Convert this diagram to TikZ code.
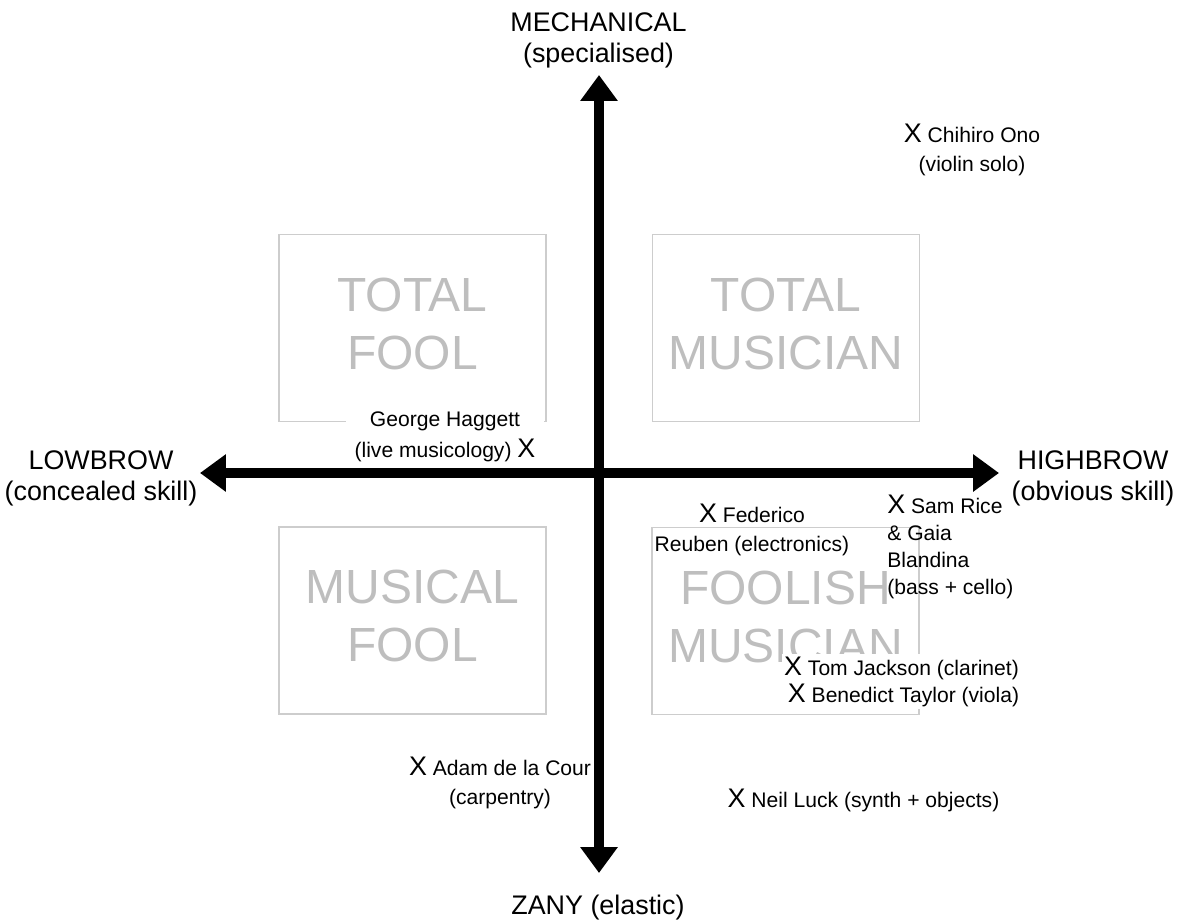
\documentclass[tikz,border=0pt]{standalone}
\usepackage{fontspec}
\setmainfont{Liberation Sans}
\usetikzlibrary{arrows.meta}
\definecolor{boxline}{RGB}{205,205,205}
\definecolor{boxtext}{RGB}{190,190,190}
\newcommand{\bigX}{{\fontsize{15.3}{16.5}\selectfont X}}
\begin{document}
\begin{tikzpicture}[x=0.02cm,y=-0.02cm,
    quad/.style={draw=boxline,line width=0.7pt,minimum width=5.34cm,minimum height=3.74cm,inner sep=0pt},
    quadtext/.style={text=boxtext,font=\fontsize{27.3}{33}\selectfont,align=center,inner sep=0pt,yshift=0.09cm},
    axisline/.style={line width=0.2cm,{Triangle[length=0.52cm,width=0.72cm]}-{Triangle[length=0.52cm,width=0.72cm]}},
    axislabel/.style={font=\fontsize{15.3}{17.6}\selectfont,align=center,inner sep=0pt},
    person/.style={font=\fontsize{12}{16.5}\selectfont,align=center,inner sep=0pt},
    masked/.style={person,fill=white,inner sep=1.5pt}]
    \useasboundingbox (0,0) rectangle (1179,919);
    \node[quad] (tf) at (412.5,328) {};
    \node[quad] (tm) at (786,328) {};
    \node[quad] (mf) at (412.5,620.5) {};
    \node[quad] (fm) at (785.5,621) {};
    \node[quadtext] (tftext) at (tf) {TOTAL\\FOOL};
    \node[quadtext] (tmtext) at (tm) {TOTAL\\MUSICIAN};
    \node[quadtext] (mftext) at (mf) {MUSICAL\\FOOL};
    \node[quadtext] (fmtext) at (fm) {FOOLISH\\MUSICIAN};
    \node[person] (chihiro) at (972,150) {\bigX{} Chihiro Ono\\(violin solo)};
    \node[masked,inner sep=5pt,font=\fontsize{12}{17.6}\selectfont] (george) at (445,437) {George Haggett\\(live musicology) \bigX};
    \node[person] (federico) at (752,530) {\bigX{} Federico\\Reuben (electronics)};
    \node[person,align=left,anchor=west,font=\fontsize{12}{15.4}\selectfont] (samrice) at (887,547) {\bigX{} Sam Rice\\\& Gaia\\Blandina\\(bass + cello)};
    \node[masked,anchor=base] (tom) at (901.5,675) {\bigX{} Tom Jackson (clarinet)};
    \node[masked,anchor=base] (benedict) at (903.5,702) {\bigX{} Benedict Taylor (viola)};
    \node[person] (adam) at (500,782.5) {\bigX{} Adam de la Cour\\(carpentry)};
    \node[person,anchor=base] (neil) at (863.5,807) {\bigX{} Neil Luck (synth + objects)};
    \coordinate (N) at (599,75);
    \coordinate (S) at (599,873);
    \coordinate (W) at (200,473);
    \coordinate (E) at (999,473);
    \draw[axisline] (W) -- (E);
    \draw[axisline] (S) -- (N);
    \node[axislabel] (mech) at (598.5,40.7) {MECHANICAL\\(specialised)};
    \node[axislabel] (low) at (101,478) {LOWBROW\\(concealed skill)};
    \node[axislabel] (high) at (1093,478) {HIGHBROW\\(obvious skill)};
    \node[axislabel,anchor=base] (zany) at (598,914) {ZANY (elastic)};
\end{tikzpicture}
\end{document}
